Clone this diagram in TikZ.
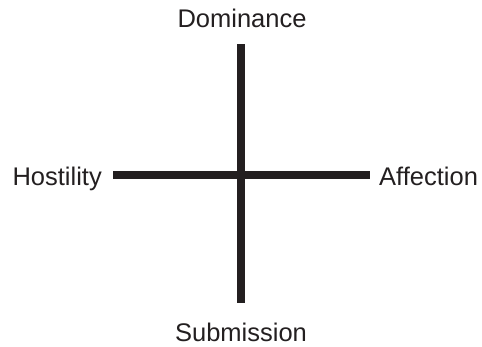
\documentclass[tikz,border=0pt]{standalone}
\usepackage{fontspec}
\setmainfont{Liberation Sans}
\definecolor{ink}{HTML}{231F20}
\begin{document}
\begin{tikzpicture}[x=1pt,y=-1pt]
        % Fixed canvas, no frame
        \useasboundingbox (0,0) rectangle (482,346);
        \tikzset{axisline/.style={ink, line width=7.5pt},
                 axislabel/.style={ink, font=\fontsize{25.5}{30}\selectfont, inner sep=0pt}}
        % Axis end points
        \coordinate (dom) at (241,44);
        \coordinate (sub) at (241,303);
        \coordinate (hos) at (113,175);
        \coordinate (aff) at (370,175);
        % Axes
        \draw[axisline] (dom) -- (sub);
        \draw[axisline] (hos) -- (aff);
        % Labels
        \node[axislabel, anchor=base] (domlabel) at (242,27) {Dominance};
        \node[axislabel, anchor=base] (sublabel) at (241,341) {Submission};
        \node[axislabel, anchor=base east] (hoslabel) at (102,185) {Hostility};
        \node[axislabel, anchor=base west] (afflabel) at (379,185) {Affection};
      \end{tikzpicture}
\end{document}
